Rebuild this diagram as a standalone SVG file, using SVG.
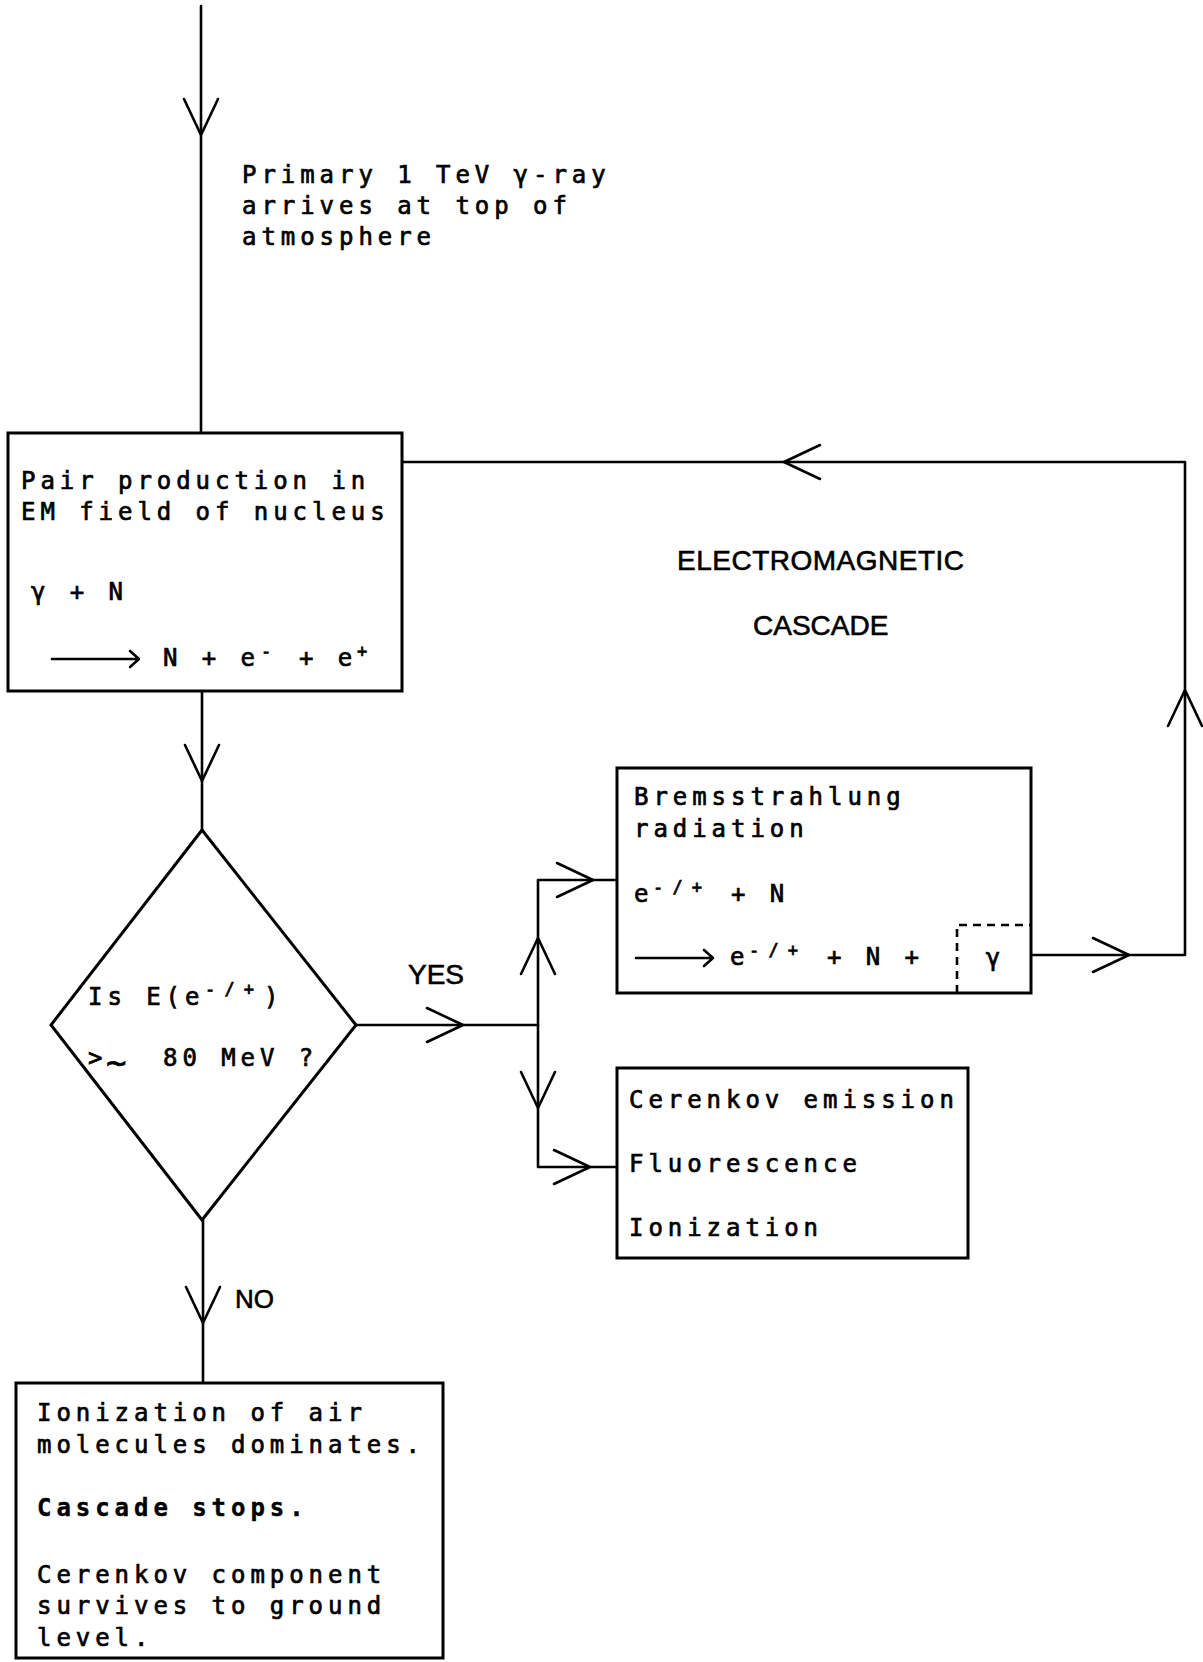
<svg xmlns="http://www.w3.org/2000/svg" xmlns:xlink="http://www.w3.org/1999/xlink" width="1203" height="1662" viewBox="0 0 1203 1662">
<style>
.m{font-family:"DejaVu Sans Mono","Liberation Mono",monospace;font-size:24px;letter-spacing:4.95px;fill:#000;stroke:#000;stroke-width:0.7px}
.sup{font-size:17px;letter-spacing:9.2px}
.s{font-family:"Liberation Sans",Arial,sans-serif;font-size:28px;fill:#000;stroke:#000;stroke-width:0.6px}
.ln{fill:none;stroke:#000;stroke-width:2.6;stroke-linecap:round;stroke-linejoin:round}
.box{fill:#fff;stroke:#000;stroke-width:3}
.dash{fill:none;stroke:#000;stroke-width:2.6;stroke-dasharray:8 6}
</style>
<defs>
<path id="ah" d="M-36,-17 L0,0 L-36,17" class="ln"/>
</defs>
<rect width="1203" height="1662" fill="#fff"/>

<g id="connectors">
<path class="ln" d="M201,6 V433"/>
<path class="ln" d="M202,691 V830"/>
<path class="ln" d="M203,1220 V1383"/>
<path class="ln" d="M356,1025 H538"/>
<path class="ln" d="M617,880 H538 V1167 H617"/>
<path class="ln" d="M1031,955 H1185 V462 H402"/>
<use xlink:href="#ah" transform="translate(201,135) rotate(90)"/>
<use xlink:href="#ah" transform="translate(202,781) rotate(90)"/>
<use xlink:href="#ah" transform="translate(463,1025)"/>
<use xlink:href="#ah" transform="translate(538,938) rotate(-90)"/>
<use xlink:href="#ah" transform="translate(538,1108) rotate(90)"/>
<use xlink:href="#ah" transform="translate(593,880)"/>
<use xlink:href="#ah" transform="translate(590,1167)"/>
<use xlink:href="#ah" transform="translate(1129,955)"/>
<use xlink:href="#ah" transform="translate(1185,690) rotate(-90)"/>
<use xlink:href="#ah" transform="translate(784,462) rotate(180)"/>
<use xlink:href="#ah" transform="translate(203,1323) rotate(90)"/>
<text class="s" x="408" y="984">YES</text>
<text class="s" x="235" y="1308" style="font-size:26px">NO</text>
</g>

<g id="primary">
<text class="m" x="242" y="183">Primary 1 TeV γ-ray</text>
<text class="m" x="242" y="214">arrives at top of</text>
<text class="m" x="242" y="245">atmosphere</text>
</g>

<g id="pair-production">
<rect class="box" x="8" y="433" width="394" height="258"/>
<text class="m" x="21" y="489">Pair production in</text>
<text class="m" x="21" y="520">EM field of nucleus</text>
<text class="m" x="31" y="600">γ + N</text>
<path class="ln" d="M52,659 H139 M130,651 L139,659 L130,667"/>
<text class="m" y="666"><tspan x="163">N + e</tspan><tspan class="sup" x="261" y="657">-</tspan><tspan x="299" y="666">+ e</tspan><tspan class="sup" x="357" y="657">+</tspan></text>
</g>

<g id="em-cascade-label">
<text class="s" x="677" y="570" style="letter-spacing:0.5px">ELECTROMAGNETIC</text>
<text class="s" x="753" y="635">CASCADE</text>
</g>

<g id="decision">
<polygon class="box" points="202,830 356,1025 202,1220 51,1025"/>
<text class="m" y="1005"><tspan x="88">Is E(e</tspan><tspan class="sup" x="205" y="995">-/+</tspan><tspan x="264" y="1005">)</tspan></text>
<text class="m" y="1066"><tspan x="88">&gt;</tspan><tspan x="106" y="1074" style="font-size:34px;letter-spacing:0">~</tspan><tspan x="163" y="1066">80 MeV ?</tspan></text>
</g>

<g id="bremsstrahlung">
<rect class="box" x="617" y="768" width="414" height="225"/>
<text class="m" x="634" y="805">Bremsstrahlung</text>
<text class="m" x="634" y="837">radiation</text>
<text class="m" y="902"><tspan x="634">e</tspan><tspan class="sup" x="653" y="893">-/+</tspan><tspan x="731" y="902">+ N</tspan></text>
<path class="ln" d="M636,958 H713 M704,950 L713,958 L704,966"/>
<text class="m" y="965"><tspan x="730">e</tspan><tspan class="sup" x="749" y="956">-/+</tspan><tspan x="827" y="965">+ N +</tspan></text>
</g>

<g id="gamma">
<path class="dash" d="M957,993 V925 H1031"/>
<text class="m" x="993" y="966" style="text-anchor:middle;letter-spacing:0">γ</text>
</g>

<g id="secondary-processes">
<rect class="box" x="617" y="1068" width="351" height="190"/>
<text class="m" x="629" y="1108">Cerenkov emission</text>
<text class="m" x="629" y="1172">Fluorescence</text>
<text class="m" x="629" y="1236">Ionization</text>
</g>

<g id="cascade-stops">
<rect class="box" x="16" y="1383" width="427" height="275"/>
<text class="m" x="37" y="1421">Ionization of air</text>
<text class="m" x="37" y="1453">molecules dominates.</text>
<text class="m" x="37" y="1516" style="font-weight:bold;stroke-width:0.4px">Cascade stops.</text>
<text class="m" x="37" y="1583">Cerenkov component</text>
<text class="m" x="37" y="1614">survives to ground</text>
<text class="m" x="37" y="1646">level.</text>
</g>
</svg>
